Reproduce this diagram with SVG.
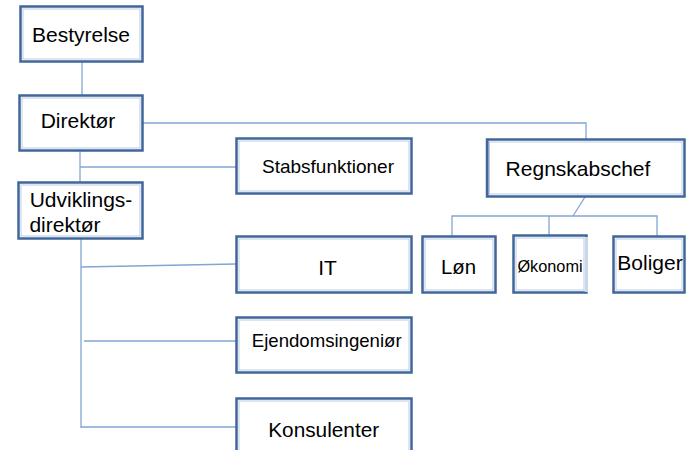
<svg xmlns="http://www.w3.org/2000/svg" width="686" height="450" viewBox="0 0 686 450">
<style>
.box{fill:#ffffff;stroke:#41669a;stroke-width:2.5}
.inner{fill:none;stroke:#b9cbe4;stroke-width:1}
.lbl{font-family:"Liberation Sans",Arial,sans-serif;fill:#000000;text-anchor:middle}
.con{fill:none;stroke:#82a5d4;stroke-width:1.3}
</style>
<rect width="686" height="450" fill="#ffffff"/>
<g id="connectors">
<path class="con" d="M82,62 V95"/>
<path class="con" d="M143,123 H586 V139"/>
<path class="con" d="M80,151 V182"/>
<path class="con" d="M80,167 H236"/>
<path class="con" d="M81,239 V428"/>
<path class="con" d="M81,267 L236,264"/>
<path class="con" d="M84,341 H236"/>
<path class="con" d="M81,427 H236"/>
<path class="con" d="M585,197 L573,216"/>
<path class="con" d="M452,236 V216 H657 V236"/>
<path class="con" d="M549,216 V235"/>
</g>
<g id="bestyrelse">
<rect class="box" x="20.5" y="6.5" width="122" height="55"/>
<rect class="inner" x="23" y="9" width="117" height="50"/>
<text class="lbl" x="81" y="42" font-size="21">Bestyrelse</text>
</g>
<g id="direktor">
<rect class="box" x="19.5" y="95.5" width="123" height="55"/>
<rect class="inner" x="22" y="98" width="118" height="50"/>
<text class="lbl" x="78" y="127.5" font-size="21">Direktør</text>
</g>
<g id="udviklingsdirektor">
<rect class="box" x="18.5" y="182.5" width="124" height="56"/>
<rect class="inner" x="21" y="185" width="119" height="51"/>
<text class="lbl" font-size="21"><tspan x="81" y="206.5">Udviklings-</tspan><tspan x="65" y="231.5">direktør</tspan></text>
</g>
<g id="stabsfunktioner">
<rect class="box" x="236.5" y="138.5" width="175" height="55"/>
<rect class="inner" x="239" y="141" width="170" height="50"/>
<text class="lbl" x="328" y="173.3" font-size="19">Stabsfunktioner</text>
</g>
<g id="regnskabschef">
<rect class="box" x="487" y="139.5" width="197.5" height="57"/>
<rect class="inner" x="489.5" y="142" width="192.5" height="52"/>
<rect x="486" y="139" width="2.5" height="58" fill="#41669a"/>
<text class="lbl" x="578" y="176" font-size="21">Regnskabschef</text>
</g>
<g id="it">
<rect class="box" x="236.5" y="236.5" width="175" height="56"/>
<rect class="inner" x="239" y="239" width="170" height="51"/>
<text class="lbl" x="327.5" y="275" font-size="21">IT</text>
</g>
<g id="ejendomsingenior">
<rect class="box" x="236.5" y="317.5" width="175" height="55"/>
<rect class="inner" x="239" y="320" width="170" height="50"/>
<text class="lbl" x="326.7" y="347.3" font-size="18.6">Ejendomsingeniør</text>
</g>
<g id="konsulenter">
<rect class="box" x="236.5" y="398.5" width="175" height="60"/>
<rect class="inner" x="239" y="401" width="170" height="55"/>
<text class="lbl" x="323.7" y="436.7" font-size="20.8">Konsulenter</text>
</g>
<g id="lon">
<rect class="box" x="422.5" y="236.5" width="73" height="56"/>
<rect class="inner" x="425" y="239" width="68" height="51"/>
<text class="lbl" x="458.5" y="274" font-size="20.4">Løn</text>
</g>
<g id="okonomi">
<rect class="box" x="513.5" y="235.5" width="73" height="57" style="stroke:#41669a"/>
<rect class="inner" x="516" y="238" width="68" height="52"/>
<rect x="585" y="237" width="3" height="55" fill="#c9d6ea"/>
<text class="lbl" x="550" y="271.7" font-size="16.3">Økonomi</text>
</g>
<g id="boliger">
<rect class="box" x="613.5" y="236.5" width="71" height="56"/>
<rect class="inner" x="616" y="239" width="66" height="51"/>
<text class="lbl" x="650" y="270" font-size="21">Boliger</text>
</g>
</svg>
